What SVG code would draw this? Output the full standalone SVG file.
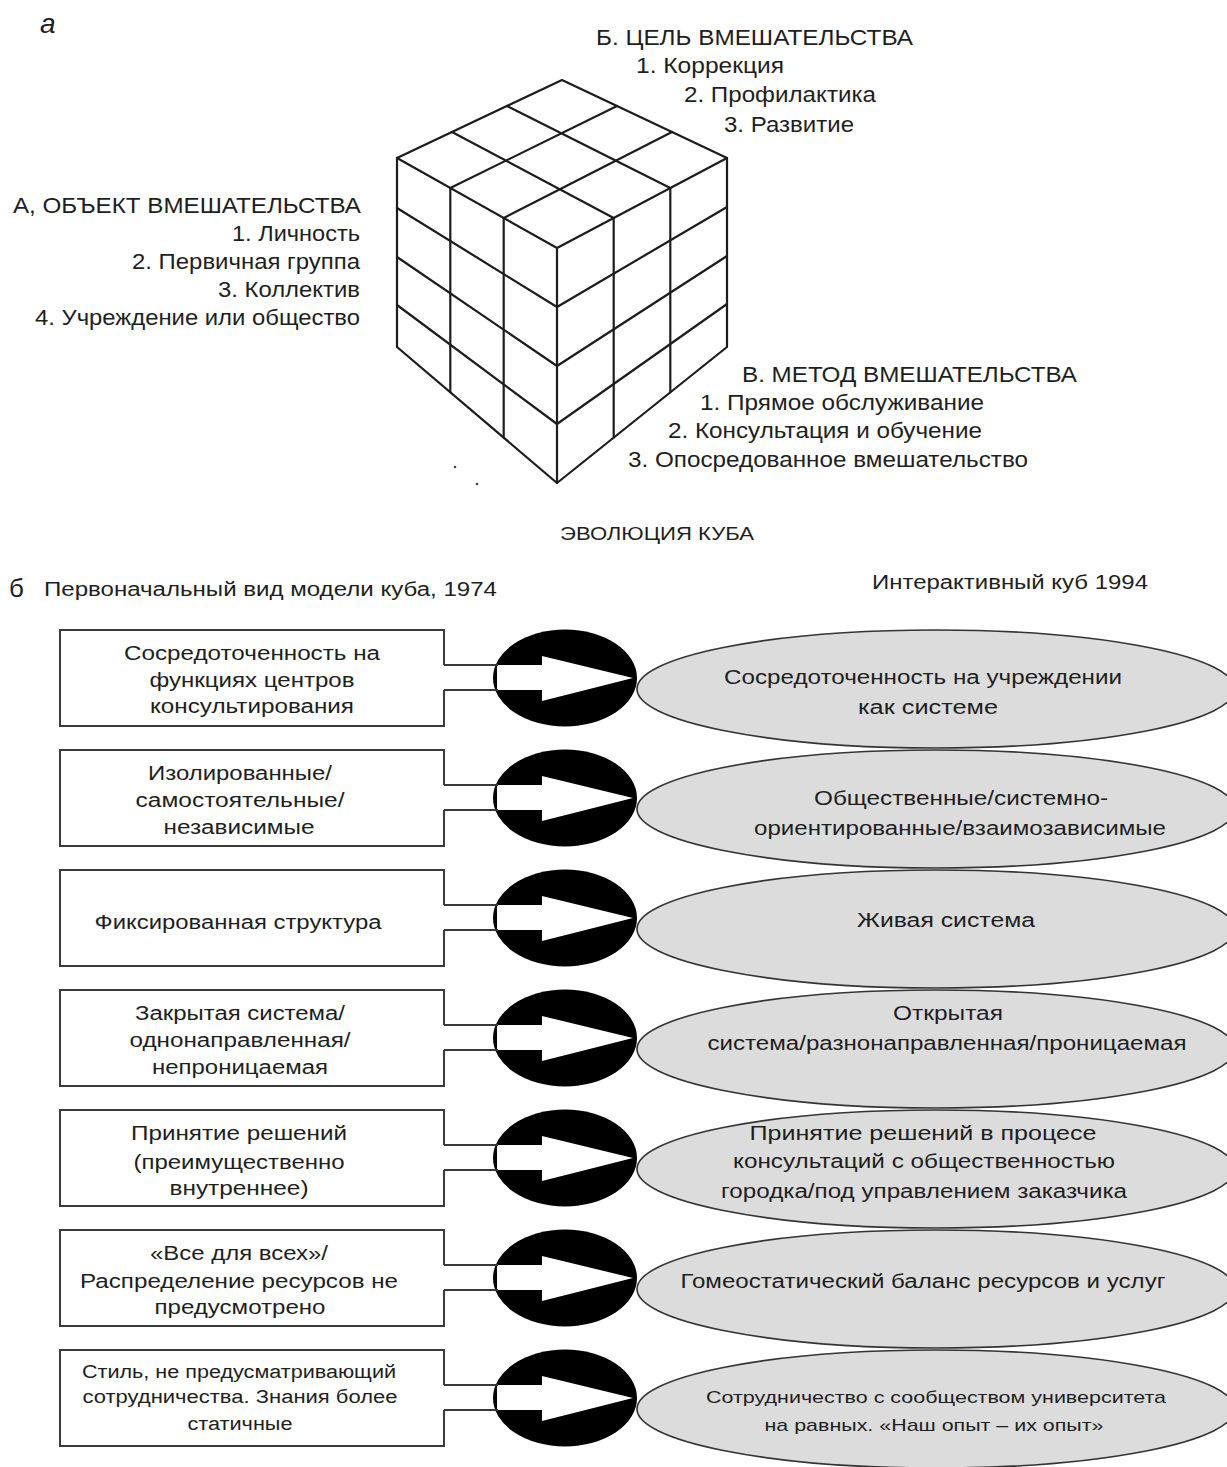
<svg xmlns="http://www.w3.org/2000/svg" width="1227" height="1467" viewBox="0 0 1227 1467">
<style>
text{font-family:"Liberation Sans",Arial,sans-serif;fill:#1e1e1e}
.t22{font-size:22px}
.t20{font-size:20px}
.t18{font-size:18px}
.t17{font-size:17px}
.m{text-anchor:middle}
.e{text-anchor:end}
.cube line,.cube path{stroke:#1c1c1c;stroke-width:2.2;fill:none;stroke-linecap:round;stroke-linejoin:round}
.box{fill:#fff;stroke:#3a3a3a;stroke-width:2}
.shaft{stroke:#3a3a3a;stroke-width:2}
.gray{fill:#dcdcdc;stroke:#333;stroke-width:1.6}
.blk{fill:#000}
.wht{fill:#fff}
</style>
<rect width="1227" height="1467" fill="#fff"/>

<!-- Part a: cube -->
<text x="40" y="33" style="font-size:28px;font-style:italic">a</text>

<g id="cube" class="cube">
  <path d="M562,80 L727,158 L727,347 L557,483 L397,347 L397,158 Z"/>
  <path d="M397,158 L557,248 L727,158 M557,248 L557,483"/>
  <line x1="507" y1="106" x2="670.3" y2="188"/>
  <line x1="452" y1="132" x2="613.7" y2="218"/>
  <line x1="617" y1="106" x2="450.3" y2="188"/>
  <line x1="672" y1="132" x2="503.7" y2="218"/>
  <line x1="450.3" y1="188" x2="450.3" y2="392.3"/>
  <line x1="503.7" y1="218" x2="503.7" y2="437.7"/>
  <line x1="397" y1="208" x2="557" y2="307"/>
  <line x1="397" y1="257" x2="557" y2="366"/>
  <line x1="397" y1="305" x2="557" y2="424"/>
  <line x1="613.7" y1="218" x2="613.7" y2="437.7"/>
  <line x1="670.3" y1="188" x2="670.3" y2="392.3"/>
  <line x1="557" y1="307" x2="727" y2="207"/>
  <line x1="557" y1="366" x2="727" y2="256"/>
  <line x1="557" y1="424" x2="727" y2="304"/>
</g>
<circle cx="455" cy="467" r="1.3" fill="#444"/>
<circle cx="477" cy="484" r="1.3" fill="#444"/>

<g id="label-b">
  <text class="t22" x="596" y="45" textLength="317" lengthAdjust="spacingAndGlyphs">Б. ЦЕЛЬ ВМЕШАТЕЛЬСТВА</text>
  <text class="t22" x="636" y="73" textLength="148" lengthAdjust="spacingAndGlyphs">1. Коррекция</text>
  <text class="t22" x="684" y="102" textLength="192" lengthAdjust="spacingAndGlyphs">2. Профилактика</text>
  <text class="t22" x="724" y="132" textLength="130" lengthAdjust="spacingAndGlyphs">3. Развитие</text>
</g>
<g id="label-a">
  <text class="t22" x="13" y="213" textLength="348" lengthAdjust="spacingAndGlyphs">А, ОБЪЕКТ ВМЕШАТЕЛЬСТВА</text>
  <text class="t22 e" x="360" y="241" textLength="128" lengthAdjust="spacingAndGlyphs">1. Личность</text>
  <text class="t22 e" x="360" y="269" textLength="228" lengthAdjust="spacingAndGlyphs">2. Первичная группа</text>
  <text class="t22 e" x="360" y="297" textLength="142" lengthAdjust="spacingAndGlyphs">3. Коллектив</text>
  <text class="t22 e" x="360" y="325" textLength="325" lengthAdjust="spacingAndGlyphs">4. Учреждение или общество</text>
</g>
<g id="label-v">
  <text class="t22" x="742" y="382" textLength="335" lengthAdjust="spacingAndGlyphs">В. МЕТОД ВМЕШАТЕЛЬСТВА</text>
  <text class="t22" x="700" y="410" textLength="284" lengthAdjust="spacingAndGlyphs">1. Прямое обслуживание</text>
  <text class="t22" x="668" y="438" textLength="314" lengthAdjust="spacingAndGlyphs">2. Консультация и обучение</text>
  <text class="t22" x="628" y="467" textLength="400" lengthAdjust="spacingAndGlyphs">3. Опосредованное вмешательство</text>
</g>

<text class="t18 m" x="657" y="540" textLength="194" lengthAdjust="spacingAndGlyphs">ЭВОЛЮЦИЯ  КУБА</text>

<!-- Part b -->
<text x="9" y="597" style="font-size:26px">б</text>
<text class="t20" x="44" y="596" textLength="453" lengthAdjust="spacingAndGlyphs">Первоначальный вид модели куба, 1974</text>
<text class="t20" x="872" y="589" textLength="276" lengthAdjust="spacingAndGlyphs">Интерактивный куб 1994</text>

<defs>
  <path id="boxshape" d="M444,665 L444,630 L60,630 L60,726 L444,726 L444,690"/>
  <g id="arrow">
    <ellipse class="blk" cx="565" cy="678" rx="72" ry="48.5"/>
    <polygon class="wht" points="497,665 542,665 542,656 633,678 542,701 542,690 497,690"/>
    <line class="shaft" x1="444" y1="665" x2="498" y2="665"/>
    <line class="shaft" x1="444" y1="690" x2="498" y2="690"/>
  </g>
</defs>

<g id="new1"><ellipse class="gray" cx="936" cy="689" rx="299" ry="59"/>
  <text class="t20 m" x="923" y="684" textLength="398" lengthAdjust="spacingAndGlyphs">Сосредоточенность на учреждении</text>
  <text class="t20 m" x="928" y="714" textLength="140" lengthAdjust="spacingAndGlyphs">как системе</text></g>
<g id="new2"><ellipse class="gray" cx="936" cy="809" rx="299" ry="59"/>
  <text class="t20 m" x="961" y="805" textLength="294" lengthAdjust="spacingAndGlyphs">Общественные/системно-</text>
  <text class="t20 m" x="960" y="835" textLength="412" lengthAdjust="spacingAndGlyphs">ориентированные/взаимозависимые</text></g>
<g id="new3"><ellipse class="gray" cx="936" cy="929" rx="299" ry="59"/>
  <text class="t20 m" x="946" y="927" textLength="178" lengthAdjust="spacingAndGlyphs">Живая система</text></g>
<g id="new4"><ellipse class="gray" cx="936" cy="1049" rx="299" ry="59"/>
  <text class="t20 m" x="948" y="1020" textLength="110" lengthAdjust="spacingAndGlyphs">Открытая</text>
  <text class="t20 m" x="947" y="1050" textLength="479" lengthAdjust="spacingAndGlyphs">система/разнонаправленная/проницаемая</text></g>
<g id="new5"><ellipse class="gray" cx="936" cy="1169" rx="299" ry="59"/>
  <text class="t20 m" x="923" y="1140" textLength="347" lengthAdjust="spacingAndGlyphs">Принятие решений в процесе</text>
  <text class="t20 m" x="924" y="1168" textLength="382" lengthAdjust="spacingAndGlyphs">консультаций с общественностью</text>
  <text class="t20 m" x="924" y="1198" textLength="406" lengthAdjust="spacingAndGlyphs">городка/под управлением заказчика</text></g>
<g id="new6"><ellipse class="gray" cx="936" cy="1289" rx="299" ry="59"/>
  <text class="t20 m" x="923" y="1288" textLength="485" lengthAdjust="spacingAndGlyphs">Гомеостатический баланс ресурсов и услуг</text></g>
<g id="new7"><ellipse class="gray" cx="936" cy="1409" rx="299" ry="59"/>
  <text class="t17 m" x="936" y="1403" textLength="460" lengthAdjust="spacingAndGlyphs">Сотрудничество с сообществом университета</text>
  <text class="t17 m" x="934" y="1431" textLength="339" lengthAdjust="spacingAndGlyphs">на равных. «Наш опыт – их опыт»</text></g>

<g id="old1"><use href="#boxshape" class="box"/>
  <text class="t20 m" x="252" y="660" textLength="256" lengthAdjust="spacingAndGlyphs">Сосредоточенность на</text>
  <text class="t20 m" x="252" y="687" textLength="205" lengthAdjust="spacingAndGlyphs">функциях центров</text>
  <text class="t20 m" x="252" y="713" textLength="204" lengthAdjust="spacingAndGlyphs">консультирования</text></g>
<g id="old2" transform="translate(0,120)"><use href="#boxshape" class="box"/>
  <text class="t20 m" x="240" y="660" textLength="184" lengthAdjust="spacingAndGlyphs">Изолированные/</text>
  <text class="t20 m" x="240" y="687" textLength="209" lengthAdjust="spacingAndGlyphs">самостоятельные/</text>
  <text class="t20 m" x="239" y="714" textLength="151" lengthAdjust="spacingAndGlyphs">независимые</text></g>
<g id="old3" transform="translate(0,240)"><use href="#boxshape" class="box"/>
  <text class="t20 m" x="238" y="689" textLength="287" lengthAdjust="spacingAndGlyphs">Фиксированная структура</text></g>
<g id="old4" transform="translate(0,360)"><use href="#boxshape" class="box"/>
  <text class="t20 m" x="240" y="660" textLength="210" lengthAdjust="spacingAndGlyphs">Закрытая система/</text>
  <text class="t20 m" x="240" y="687" textLength="221" lengthAdjust="spacingAndGlyphs">однонаправленная/</text>
  <text class="t20 m" x="240" y="714" textLength="176" lengthAdjust="spacingAndGlyphs">непроницаемая</text></g>
<g id="old5" transform="translate(0,480)"><use href="#boxshape" class="box"/>
  <text class="t20 m" x="239" y="660" textLength="216" lengthAdjust="spacingAndGlyphs">Принятие решений</text>
  <text class="t20 m" x="239" y="689" textLength="211" lengthAdjust="spacingAndGlyphs">(преимущественно</text>
  <text class="t20 m" x="239" y="715" textLength="139" lengthAdjust="spacingAndGlyphs">внутреннее)</text></g>
<g id="old6" transform="translate(0,600)"><use href="#boxshape" class="box"/>
  <text class="t20 m" x="239" y="660" textLength="178" lengthAdjust="spacingAndGlyphs">«Все для всех»/</text>
  <text class="t20 m" x="239" y="688" textLength="318" lengthAdjust="spacingAndGlyphs">Распределение ресурсов не</text>
  <text class="t20 m" x="240" y="714" textLength="171" lengthAdjust="spacingAndGlyphs">предусмотрено</text></g>
<g id="old7" transform="translate(0,720)"><use href="#boxshape" class="box"/>
  <text class="t18 m" x="239" y="658" textLength="314" lengthAdjust="spacingAndGlyphs">Стиль, не предусматривающий</text>
  <text class="t18 m" x="240" y="683" textLength="315" lengthAdjust="spacingAndGlyphs">сотрудничества.  Знания более</text>
  <text class="t18 m" x="240" y="710" textLength="105" lengthAdjust="spacingAndGlyphs">статичные</text></g>

<g id="connectors">
  <use href="#arrow"/>
  <use href="#arrow" transform="translate(0,120)"/>
  <use href="#arrow" transform="translate(0,240)"/>
  <use href="#arrow" transform="translate(0,360)"/>
  <use href="#arrow" transform="translate(0,480)"/>
  <use href="#arrow" transform="translate(0,600)"/>
  <use href="#arrow" transform="translate(0,720)"/>
</g>
</svg>
